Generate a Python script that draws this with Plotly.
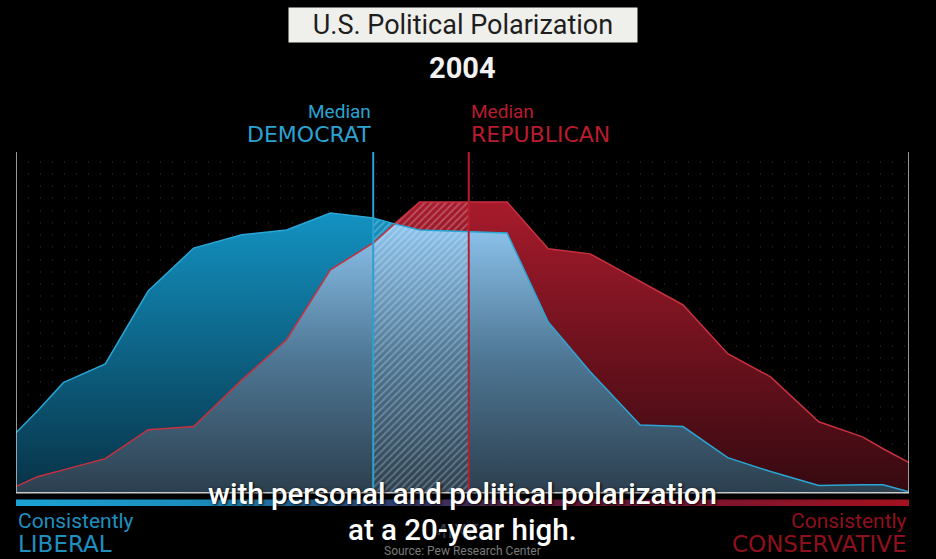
import numpy as np
import plotly.graph_objects as go

# Score idéologique (0 = très libéral, 100 = très conservateur) et part de chaque groupe
score = [0, 2.4, 5.3, 10.0, 14.8, 19.9, 25.3, 30.3, 35.2, 38.5, 40.0, 42.4, 45.2,
         55.0, 59.6, 64.3, 69.9, 74.7, 79.7, 84.5, 89.9, 94.8, 97.1, 100]
democrats = [17.6, 24.0, 32.3, 37.8, 59.2, 71.8, 75.7, 77.1, 82.1, 81.2, 80.6, 78.9, 77.1,
             76.2, 50.1, 35.5, 19.9, 19.4, 10.3, 6.2, 2.1, 2.3, 2.3, 0.3]
republicans = [1.8, 4.7, 6.7, 10.0, 18.5, 19.4, 33.1, 44.9, 65.4, 70.7, 73.3, 78.9, 85.3,
               85.3, 71.6, 70.1, 61.9, 55.1, 40.8, 34.0, 20.8, 16.4, 12.9, 8.8]
median_dem = 40.0
median_rep = 50.7

BLUE = '#2aa3d3'
RED = '#b81c2e'

dem = np.array(democrats)
rep = np.array(republicans)
overlap = np.minimum(dem, rep)
envelope = np.maximum(dem, rep)

# zone hachurée entre les deux médianes
hx = [median_dem] + [s for s in score if median_dem < s < median_rep] + [median_rep]
hy = np.interp(hx, score, envelope)

fig = go.Figure()

fig.add_trace(go.Scatter(
    x=score, y=republicans, mode='none', fill='tozeroy',
    fillgradient=dict(type='vertical', start=0, stop=86,
                      colorscale=[[0, '#350910'], [1, '#a81b2c']]),
))
fig.add_trace(go.Scatter(
    x=score, y=democrats, mode='none', fill='tozeroy',
    fillgradient=dict(type='vertical', start=0, stop=82,
                      colorscale=[[0, '#073246'], [1, '#1392c2']]),
))
fig.add_trace(go.Scatter(
    x=score, y=overlap, mode='none', fill='tozeroy',
    fillgradient=dict(type='vertical', start=0, stop=80,
                      colorscale=[[0, '#2c3f4e'], [0.5, '#4f7896'], [1, '#8fc6f0']]),
))
fig.add_trace(go.Scatter(
    x=hx, y=hy, mode='none', fill='tozeroy', fillcolor='rgba(0,0,0,0)',
    fillpattern=dict(shape='/', fgcolor='rgba(255,255,255,0.5)',
                     bgcolor='rgba(0,0,0,0)', size=5, solidity=0.35),
))
fig.add_trace(go.Scatter(x=score, y=republicans, mode='lines',
                         line=dict(color='#c8313f', width=1.5)))
fig.add_trace(go.Scatter(x=score, y=democrats, mode='lines',
                         line=dict(color='#2aa6d6', width=1.5)))

# médianes
fig.add_trace(go.Scatter(x=[median_dem, median_dem], y=[0, 100], mode='lines',
                         line=dict(color=BLUE, width=2)))
fig.add_trace(go.Scatter(x=[median_rep, median_rep], y=[0, 100], mode='lines',
                         line=dict(color=RED, width=2)))

# barre libéral -> conservateur sous l'axe
fig.add_trace(go.Scatter(
    x=[0, 100, 100, 0, 0], y=[-2.0, -2.0, -3.9, -3.9, -2.0], mode='none', fill='toself',
    fillgradient=dict(type='horizontal', start=0, stop=100,
                      colorscale=[[0, '#1ba2d4'], [0.2, '#1a8dbc'], [0.42, '#2e3d6e'],
                                  [0.6, '#5e1838'], [1, '#a3111f']]),
))

frame = dict(color='#c9c9c9', width=1.5)
fig.add_shape(type='line', x0=0, x1=0, y0=0, y1=100, line=frame)
fig.add_shape(type='line', x0=100, x1=100, y0=0, y1=100, line=frame)
fig.add_shape(type='line', x0=0, x1=100, y0=0, y1=0, line=frame)

font_lab = 'DejaVu Sans'
font_txt = 'Roboto'


def label(text, x, y, color, size, xanchor='center', xref='x', family=font_txt, **kw):
    fig.add_annotation(text=text, x=x, y=y, xref=xref, yref='paper', xanchor=xanchor,
                       yanchor='middle', showarrow=False,
                       font=dict(family=family, size=size, color=color), **kw)


label('U.S. Political Polarization', 0.5, 1.358, '#1e1e1e', 27, xref='paper',
      bgcolor='#efefeb', width=346, height=32, borderpad=1)
label('<b>2004</b>', 0.5, 1.237, '#f2f2f2', 29, xref='paper')
label('Median', median_dem, 1.113, BLUE, 19, xanchor='right')
label('DEMOCRAT', median_dem, 1.048, BLUE, 22, xanchor='right', family=font_lab)
label('Median', median_rep, 1.113, RED, 19, xanchor='left')
label('REPUBLICAN', median_rep, 1.048, RED, 22, xanchor='left', family=font_lab)

label('Consistently', 0, -0.040, '#1f8fc0', 21, xanchor='left', xref='paper')
label('LIBERAL', 0, -0.104, '#1f8fc0', 23, xanchor='left', xref='paper', family=font_lab)
label('Consistently', 1, -0.040, '#8e101d', 21, xanchor='right', xref='paper')
label('CONSERVATIVE', 1, -0.104, '#8e101d', 23, xanchor='right', xref='paper', family=font_lab)
label('MIXED', 0.5, -0.068, '#3a3a44', 20, xref='paper', family=font_lab)
label('Source: Pew Research Center', 0.5, -0.124, '#7a7a7a', 12, xref='paper')

# sous-titres (placés après MIXED pour passer devant)
sub = dict(family=font_txt, size=29.5, color='white', weight=500,
           shadow='1px 1px 3px black')
label('with personal and political polarization', 0.5, 0.037, 'white', 29.5, xref='paper')
label('at a 20-year high.', 0.5, -0.065, 'white', 29.5, xref='paper')
for ann in fig.layout.annotations[-2:]:
    ann.font = sub

fig.update_layout(
    width=936, height=559,
    margin=dict(l=16, r=27, t=152, b=52),
    paper_bgcolor='black', plot_bgcolor='black',
    showlegend=False,
    xaxis=dict(range=[0, 100], showgrid=False, zeroline=False, showticklabels=False),
    yaxis=dict(range=[-4.2, 100], showgrid=True, dtick=3.6, tick0=0,
               gridcolor='rgba(255,255,255,0.10)', griddash='1px,11px', gridwidth=1.5,
               zeroline=False, showticklabels=False),
)

# la page a une marge de 8px par défaut : on la retire pour coller à la fenêtre
fig.write_html('out.html', config={'displayModeBar': False},
               post_script="document.body.style.margin='0';")
